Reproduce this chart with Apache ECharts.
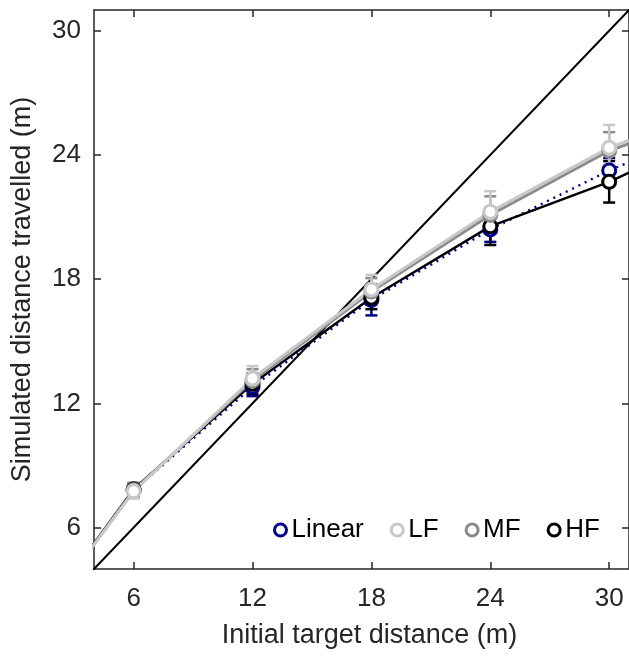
<!DOCTYPE html>
<html><head><meta charset="utf-8">
<script src="https://cdn.jsdelivr.net/npm/echarts@6/dist/echarts.min.js"></script>
<style>html,body{margin:0;padding:0;background:#fff}#c{width:629px;height:659px}</style>
</head><body><div id="c"></div>
<script>
// ---- data ----
const distances = [6, 12, 18, 24, 30];
const tickValues = [6, 12, 18, 24, 30];
const seriesNames = ['Linear', 'LF', 'MF', 'HF'];
const linearMean = [7.8, 12.8, 17.0, 20.4, 23.25];
const linearErr  = [0.3, 0.45, 0.75, 0.6, 0.6];
const lfMean = [7.75, 13.2, 17.5, 21.25, 24.35];
const lfErr  = [0.35, 0.6, 0.7, 1.0, 1.1];
const mfMean = [7.8, 13.1, 17.4, 21.1, 24.2];
const mfErr  = [0.35, 0.55, 0.65, 0.9, 0.9];
const hfMean = [7.85, 12.95, 17.1, 20.55, 22.7];
const hfErr  = [0.3, 0.5, 0.55, 0.9, 1.0];
// lines start at the origin and run out to the right edge of the axes
const lineOrigin = [0, 0];
const lineEndX = 31;
const lineEndY = { Linear: 23.65, LF: 24.7, MF: 24.55, HF: 23.15 };
const unityRange = [0, 40];

const colors = { Linear: '#00008b', LF: '#c8c8c8', MF: '#8a8a8a', HF: '#000000' };
const FONT = 'Liberation Sans, Arial, Helvetica, sans-serif';
const AX = '#262626';

function lineSeries(name, means, width, type) {
  const data = [lineOrigin].concat(distances.map((x, i) => [x, means[i]])).concat([[lineEndX, lineEndY[name]]]);
  return {
    type: 'line', name: name, data: data, z: 3,
    symbol: 'circle', symbolSize: 13,
    showAllSymbol: true,
    itemStyle: { color: '#ffffff', borderColor: colors[name], borderWidth: 3 },
    lineStyle: { color: colors[name], width: width, type: type || 'solid', cap: 'butt' },
    emphasis: { disabled: true },
    animation: false
  };
}
// hide the symbols at origin / edge points
function hideEnds(s) {
  s.data = s.data.map((p, i) => (i === 0 || i === s.data.length - 1) ? { value: p, symbol: 'none' } : p);
  return s;
}
function errSeries(name, means, errs) {
  const color = colors[name];
  return {
    type: 'custom', name: name + ' err', silent: true, z: 2, animation: false,
    data: distances.map((x, i) => [x, means[i] - errs[i], means[i] + errs[i]]),
    encode: { x: 0, y: [1, 2] },
    renderItem(params, api) {
      const lo = api.coord([api.value(0), api.value(1)]);
      const hi = api.coord([api.value(0), api.value(2)]);
      const w = 6, st = { stroke: color, lineWidth: 2.5 };
      return { type: 'group', children: [
        { type: 'line', shape: { x1: lo[0], y1: lo[1], x2: hi[0], y2: hi[1] }, style: st },
        { type: 'line', shape: { x1: lo[0] - w, y1: lo[1], x2: lo[0] + w, y2: lo[1] }, style: st },
        { type: 'line', shape: { x1: hi[0] - w, y1: hi[1], x2: hi[0] + w, y2: hi[1] }, style: st }
      ] };
    }
  };
}

const chart = echarts.init(document.getElementById('c'), null, { renderer: 'canvas' });
const axisCommon = {
  type: 'value', min: 4, max: 31,
  axisLine: { show: true, onZero: false, lineStyle: { color: AX, width: 1.5 } },
  axisTick: { show: true, inside: true, length: 7, customValues: tickValues, lineStyle: { color: AX, width: 1.5 } },
  splitLine: { show: false }
};
chart.setOption({
  animation: false,
  backgroundColor: '#ffffff',
  grid: { left: 94, top: 10, width: 539, height: 559, containLabel: false },
  xAxis: [
    Object.assign({}, axisCommon, {
      position: 'bottom',
      name: 'Initial target distance (m)', nameLocation: 'middle', nameGap: 53,
      nameTextStyle: { fontFamily: FONT, fontSize: 27, color: AX, padding: [0, 0, 0, 16] },
      axisLabel: { show: true, customValues: tickValues, margin: 17, fontFamily: FONT, fontSize: 26, color: AX }
    }),
    Object.assign({}, axisCommon, { position: 'top', axisLabel: { show: false } })
  ],
  yAxis: [
    Object.assign({}, axisCommon, {
      position: 'left',
      name: 'Simulated distance travelled (m)', nameLocation: 'middle', nameGap: 58,
      nameTextStyle: { fontFamily: FONT, fontSize: 27, color: AX },
      axisLabel: { show: true, customValues: tickValues, margin: 13, fontFamily: FONT, fontSize: 26, color: AX }
    }),
    Object.assign({}, axisCommon, { position: 'right', axisLabel: { show: false } })
  ],
  legend: {
    show: true, orient: 'horizontal', left: 268, top: 512,
    itemWidth: 12, itemHeight: 12, itemGap: 26,
    textStyle: { fontFamily: FONT, fontSize: 26, color: '#000' },
    selectedMode: false,
    data: seriesNames.map(n => ({
      name: n, icon: 'circle',
      itemStyle: { color: '#ffffff', borderColor: colors[n], borderWidth: 3 }
    }))
  },
  series: [
    {
      type: 'line', name: 'Unity', z: 1, symbol: 'none', silent: true,
      data: unityRange.map(v => [v, v]),
      lineStyle: { color: '#000', width: 2 }, animation: false
    },
    errSeries('Linear', linearMean, linearErr),
    hideEnds(lineSeries('Linear', linearMean, 2.4, [2, 5])),
    errSeries('HF', hfMean, hfErr),
    hideEnds(lineSeries('HF', hfMean, 2.5)),
    errSeries('MF', mfMean, mfErr),
    hideEnds(lineSeries('MF', mfMean, 3)),
    errSeries('LF', lfMean, lfErr),
    hideEnds(lineSeries('LF', lfMean, 3))
  ]
});
</script>
</body></html>
